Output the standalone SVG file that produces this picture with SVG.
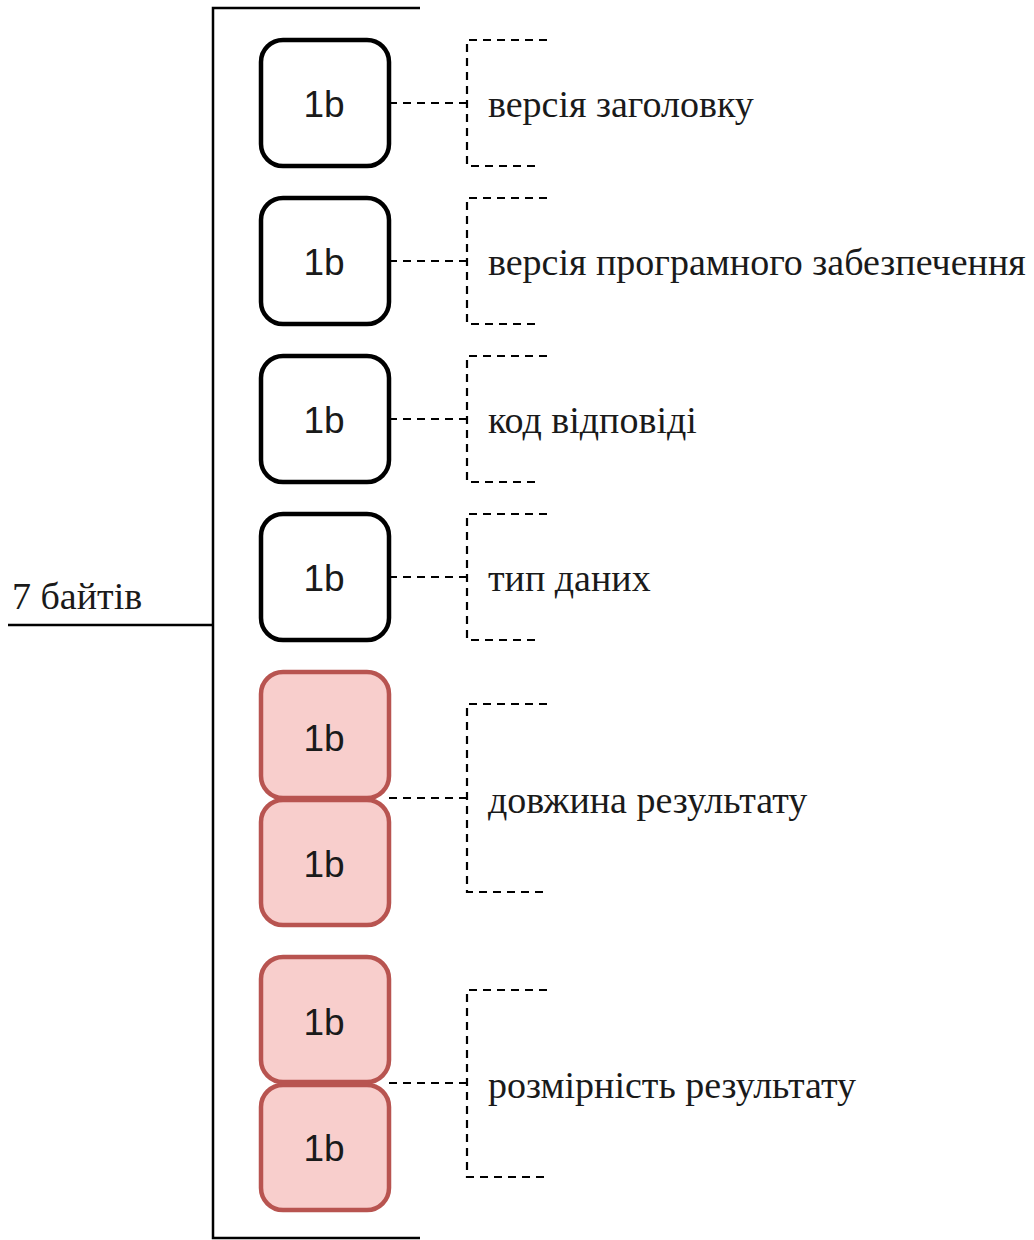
<svg xmlns="http://www.w3.org/2000/svg" width="1034" height="1240" viewBox="0 0 1034 1240">
  <style>
    .byte { fill: #ffffff; stroke: #000000; stroke-width: 4.5; }
    .byte.red { fill: #f8cecc; stroke: #b85450; }
    .blabel { font-family: "Liberation Sans", Arial, sans-serif; font-size: 37px; fill: #1a1a1a; text-anchor: middle; }
    .desc { font-family: "Liberation Serif", "Times New Roman", serif; font-size: 38px; fill: #1a1a1a; }
    .dash { fill: none; stroke: #000000; stroke-width: 2.2; stroke-dasharray: 8 6; }
    .solid { fill: none; stroke: #000000; stroke-width: 2.5; }
  </style>
  <rect width="1034" height="1240" fill="#ffffff"/>

  <!-- outer brace for the 7-byte header -->
  <g id="header-brace">
    <path class="solid" d="M420 8 H213 V1238 H420"/>
    <path class="solid" d="M8 625 H213"/>
    <text class="desc" x="12" y="609">7 байтів</text>
  </g>

  <!-- byte cells -->
  <g id="byte-1"><rect class="byte" x="261" y="40" width="128" height="126" rx="22"/><text class="blabel" x="324" y="117">1b</text></g>
  <g id="byte-2"><rect class="byte" x="261" y="198" width="128" height="126" rx="22"/><text class="blabel" x="324" y="275">1b</text></g>
  <g id="byte-3"><rect class="byte" x="261" y="356" width="128" height="126" rx="22"/><text class="blabel" x="324" y="433">1b</text></g>
  <g id="byte-4"><rect class="byte" x="261" y="514" width="128" height="126" rx="22"/><text class="blabel" x="324" y="591">1b</text></g>
  <g id="byte-5"><rect class="byte red" x="261" y="672" width="128" height="126" rx="22"/><text class="blabel" x="324" y="751">1b</text></g>
  <g id="byte-6"><rect class="byte red" x="261" y="800" width="128" height="125" rx="22"/><text class="blabel" x="324" y="877">1b</text></g>
  <g id="byte-7"><rect class="byte red" x="261" y="957" width="128" height="125" rx="22"/><text class="blabel" x="324" y="1035">1b</text></g>
  <g id="byte-8"><rect class="byte red" x="261" y="1085" width="128" height="125" rx="22"/><text class="blabel" x="324" y="1161">1b</text></g>

  <!-- field labels -->
  <g id="label-1"><text class="desc" x="488" y="117">версія заголовку</text></g>
  <g id="label-2"><text class="desc" x="488" y="275">версія програмного забезпечення</text></g>
  <g id="label-3"><text class="desc" x="488" y="433">код відповіді</text></g>
  <g id="label-4"><text class="desc" x="488" y="591">тип даних</text></g>
  <g id="label-5"><text class="desc" x="488" y="813">довжина результату</text></g>
  <g id="label-6"><text class="desc" x="488" y="1098">розмірність результату</text></g>

  <!-- dashed connectors and brackets -->
  <g id="connectors">
    <path class="dash" d="M389 103 H467"/>
    <path class="dash" d="M547 40 H467 V166 H540"/>
    <path class="dash" d="M389 261 H467"/>
    <path class="dash" d="M547 198 H467 V324 H540"/>
    <path class="dash" d="M389 419 H467"/>
    <path class="dash" d="M547 356 H467 V482 H540"/>
    <path class="dash" d="M389 577 H467"/>
    <path class="dash" d="M547 514 H467 V640 H540"/>
    <path class="dash" d="M389 798 H467"/>
    <path class="dash" d="M547 704 H467 V892 H547"/>
    <path class="dash" d="M389 1083 H467"/>
    <path class="dash" d="M547 990 H467 V1177 H547"/>
  </g>
</svg>
